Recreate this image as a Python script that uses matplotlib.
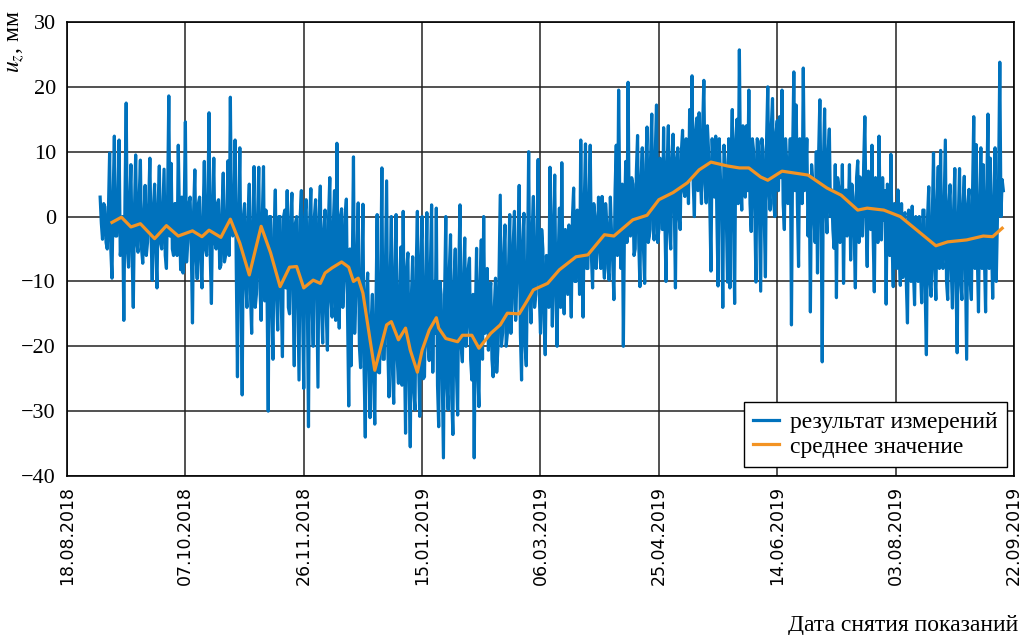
import numpy as np
import matplotlib
matplotlib.use("Agg")
import matplotlib.pyplot as plt
import matplotlib.dates as mdates

# Measured vertical displacement, two readings per day from 01.09.2018:
# morning readings (*_am) and evening readings (*_pm)
sep_2018_am = [3.0, -3.5, 1.5, -5.0, 9.8, -9.5, 12.4, -3.0, 11.8, -4.0, -16.0, 17.5, -7.8, 8.0, -14.0,
               9.5, -5.5, 8.7, -7.2, 4.8, -4.0, 9.0, -9.8, 5.0, -11.0, 7.8, -5.0, 7.3, -8.0, 18.6]
sep_2018_pm = [-1, 2, -4, 1, -5, 3, -3, 2, -6, 0, 3, -5, 2, -6, 1, -4, 3, -5, 0, -6, 2, -3, 1, -5, 2,
               -4, 1, -6, 3, -3]
oct_2018_am = [8.2, -6.0, 2.0, 11.0, -8.2, -8.7, 14.6, -4.0, 3.0, -16.4, 7.2, -9.6, 3.0, -11.0, 8.5, -6.0,
               16.0, -13.4, 9.0, -5.0, 2.6, -7.5, 6.7, -6.0, 8.6, 18.4, -3.0, 11.8, -24.7, 10.6, -27.5]
oct_2018_pm = [-5, 2, -6, 0, 3, 1, -7, 2, -5, 1, -6, 2, -7, 0, -5, 2, -6, 1, -4, 2, -8, 1, -7, 0, -6, -2,
               1, -8, 0, -10, 0]
nov_2018_am = [2.0, -14.0, 5.0, -18.0, 7.7, -12.0, 7.6, -16.0, 7.7, 1.0, -30.0, 0.0, -22.0, 4.1, -17.5,
               0.0, -21.6, 1.0, 4.0, -15.0, 3.6, -23.0, 0.0, -25.2, 4.0, -26.5, 2.6, -32.4, 4.3, -20.0]
nov_2018_pm = [-10, 0, -12, -1, -14, 0, -11, 0, -13, -12, 0, -14, -2, -12, 0, -13, 0, -11, -14, 0, -12,
               -1, -13, 0, -14, 0, -12, -1, -13, 0]
dec_2018_am = [2.6, -26.3, 4.7, -19.5, 1.0, -20.6, 6.0, -15.5, 4.0, 11.3, -17.2, 1.2, -10.0, 2.7, -29.2,
               -23.0, 9.2, -12.0, 2.1, -23.3, 1.9, -34.0, -8.7, -31.0, -12.0, -32.0, 0.3, -24.1, 7.5,
               -22.0, 5.5]
dec_2018_pm = [-12, 0, -14, -2, -15, 0, -13, -1, -16, -10, 0, -14, 0, -15, -5, -8, -18, -6, -20, -10,
               -24, -12, -22, -16, -25, -14, -24, -10, -22, -8, -20]
jan_2019_am = [-27.8, 0.0, -28.8, 0.3, -25.7, -4.7, 0.8, -33.4, -5.6, -35.5, -6.2, -29.8, 0.8, -30.8, 0.0,
               -24.7, 0.6, -22.2, 1.8, -10.0, 1.3, -32.4, -12.0, -37.2, 0.0, -29.8, -2.8, -33.6, -5.0,
               -30.6, 1.8]
jan_2019_pm = [-10, -24, -8, -22, -12, -26, -20, -8, -25, -12, -27, -8, -22, -6, -25, -10, -20, -8, -24,
               -18, -26, -10, -25, -12, -26, -8, -28, -10, -24, -8, -20]
feb_2019_am = [-22.4, -3.3, -17.0, -6.4, -25.2, -37.2, -4.9, -29.3, -3.6, 0.0, -16.0, -20.6, -10.2, -24.7,
               -9.5, -20.3, 3.3, -17.9, -1.3, -18.0, 0.3, -13.4, 0.8, -10.0, 4.8, -25.2, 0.5, -23.0]
feb_2019_pm = [-10, -20, -8, -22, -12, -15, -24, -10, -22, -18, -8, -12, -22, -14, -24, -8, -20, -6,
               -20, -8, -18, -4, -16, -6, -18, -4, -20, -8]
mar_2019_am = [10.0, -16.4, 3.1, -12.0, 8.8, -18.0, -5.0, -21.3, -10.6, 7.6, -16.9, 6.4, -20.0, 1.3, 8.3,
               -15.0, -7.0, -1.3, -15.5, 4.4, -10.0, -2.0, 11.8, -15.5, 11.2, -8.0, 11.0, -11.0, 0.0,
               -5.6, 0.2]
mar_2019_pm = [-12, -2, -14, -4, -12, -2, -16, -6, -14, -4, -3, -12, -6, -14, -10, -2, -12, -8, 0, -10,
               1, -12, -6, 2, -8, 3, -6, 2, -8, 3, -8]
apr_2019_am = [3.1, -9.5, -1.0, -9.8, -2.5, -12.8, 11.0, 19.5, -8.0, -20.0, 8.5, 20.7, -3.0, 5.0, -5.0,
               12.5, -10.8, 10.6, -10.3, 13.8, -3.0, 15.8, -3.6, 17.2, -2.0, 6.7, 13.7, -10.0, 14.0, -5.0]
apr_2019_pm = [-6, 2, -8, 3, -7, 4, -6, 2, 5, 0, -4, -2, 6, -6, 7, -4, 6, -5, 8, -4, 9, -2, 10, -4, 9,
               -2, 0, 8, -2, 9]
may_2019_am = [12.7, -11.0, 10.6, -2.0, 13.3, 3.1, 9.1, 16.5, 21.7, 0.0, 15.2, 16.0, 2.0, 21.0, 2.1,
               10.0, -8.4, 7.0, 12.4, -10.7, 6.0, -14.0, 8.3, -10.1, -11.0, 16.5, -13.4, 15.0, 25.7, 1.0,
               12.4]
may_2019_pm = [2, 9, 0, 10, 4, 12, 2, 6, 5, 13, 4, 6, 14, 5, 14, 2, 12, 3, 0, 12, 2, 11, 0, 12, 8, 0, 12,
               2, 6, 14, 3]
jun_2019_am = [14.0, 19.5, -2.3, 10.2, -10.1, 11.6, -11.5, 10.3, -9.3, 20.0, 1.0, 18.2, 0.0, 14.8, 15.4,
               19.5, -2.0, 8.4, 4.0, -16.7, 22.3, 17.2, -7.7, 8.7, 22.9, 5.8, -3.0, -14.7, 5.3, -4.0]
jun_2019_pm = [4, 2, 12, 1, 12, 0, 12, 0, 12, 4, 14, 2, 13, 4, 6, 2, 12, 2, 12, 10, 4, 2, 12, 2, 4, 12,
               6, 8, 0, 10]
jul_2019_am = [-8.7, 18.0, -22.4, 16.6, -2.5, 13.5, 4.1, -4.9, -12.5, 4.6, -3.0, -10.3, 4.1, 0.3, -6.7,
               3.0, -11.0, 8.6, 6.1, -3.0, 15.4, -7.7, 5.6, 11.0, -11.6, 2.5, 12.4, -3.6, -0.6, -13.5, 4.6]
jul_2019_pm = [10, 2, 8, 2, 10, 0, -2, 8, 6, -4, 8, 4, -3, 8, 5, -3, 6, -4, -2, 8, 0, 7, -2, -3, 6, -4,
               -2, 6, 4, 5, -6]
aug_2019_am = [9.6, -10.8, -2.5, 4.1, -10.6, -9.4, 0.6, -16.4, -4.0, 1.6, -13.6, -2.5, 0.0, -13.3, 1.0,
               -21.3, 4.6, -12.3, 9.8, -12.8, 7.7, 10.2, -8.0, 11.8, -12.8, 4.9, -14.1, 7.4, -21.0, 7.4,
               -12.8]
aug_2019_pm = [-4, 2, -8, -6, 2, 0, -10, 1, -10, -8, 0, -10, -8, 1, -12, 0, -10, 0, -8, 2, -8, -6, 2,
               -10, 2, -8, 1, -10, 0, -10, 2]
sep_2019_am = [6.2, -22.0, 4.2, -12.8, 15.4, 11.1, -14.7, 10.6, 8.0, -14.7, 15.8, 9.0, -12.6, 10.6, -0.4,
               23.8, 5.7]
sep_2019_pm = [-8, 2, -10, 4, -8, -6, 2, -8, -6, 4, -8, -4, 2, -10, 6, 0, 4]

# Running mean: day offset from 18.08.2018 and value, мм
mean_offset_days = [19, 23, 27, 31, 37, 42, 47, 53, 57, 60, 65, 69, 73, 77, 82, 86, 90, 94, 97, 100,
                    104, 107, 109, 112, 116, 119, 121, 123, 125, 128, 130, 133, 135, 137, 140, 143, 145,
                    148, 150, 153, 156, 157, 160, 165, 167, 171, 174, 179, 183, 186, 191, 194, 197, 200,
                    203, 208, 215, 220, 227, 231, 239, 245, 250, 256, 262, 267, 272, 279, 284, 288, 293,
                    296, 302, 313, 321, 327, 334, 338, 345, 352, 360, 367, 372, 380, 387, 391, 395]
mean_values = [-0.9, -0.1, -1.6, -1.1, -3.4, -1.4, -3.0, -2.2, -3.1, -2.1, -3.2, -0.4, -4.1, -9.0, -1.5,
               -5.6, -10.8, -7.8, -7.7, -11.0, -9.8, -10.3, -8.7, -7.9, -7.0, -7.8, -10.0, -9.5, -11.8,
               -19.0, -23.7, -19.5, -16.7, -16.2, -19.0, -17.2, -20.6, -24.0, -20.6, -17.5, -15.6, -17.2,
               -18.8, -19.3, -18.3, -18.3, -20.3, -18.0, -16.7, -14.9, -15.0, -13.2, -11.3, -10.8, -10.3,
               -8.2, -6.2, -5.9, -2.8, -3.0, -0.5, 0.2, 2.6, 3.7, 5.2, 7.2, 8.4, 7.8, 7.5, 7.5, 6.1, 5.6,
               7.0, 6.4, 4.4, 3.3, 1.0, 1.3, 1.0, 0.0, -2.4, -4.5, -3.9, -3.6, -3.0, -3.1, -1.8]

axis_start = np.datetime64("2018-08-18")
axis_end = np.datetime64("2019-09-22")
first_reading = np.datetime64("2018-09-01T00:00")

am = np.concatenate([sep_2018_am, oct_2018_am, nov_2018_am, dec_2018_am, jan_2019_am, feb_2019_am,
                     mar_2019_am, apr_2019_am, may_2019_am, jun_2019_am, jul_2019_am, aug_2019_am,
                     sep_2019_am])
pm = np.concatenate([sep_2018_pm, oct_2018_pm, nov_2018_pm, dec_2018_pm, jan_2019_pm, feb_2019_pm,
                     mar_2019_pm, apr_2019_pm, may_2019_pm, jun_2019_pm, jul_2019_pm, aug_2019_pm,
                     sep_2019_pm])
measured = np.column_stack([am, pm]).ravel()
measured_dates = first_reading + (np.arange(len(measured)) * 12).astype("timedelta64[h]")
mean_dates = axis_start + np.array(mean_offset_days).astype("timedelta64[D]")

plt.rcParams["mathtext.fontset"] = "stix"
serif = "Liberation Serif"

fig = plt.figure(figsize=(10.22, 6.35), dpi=100)
ax = fig.add_axes([67 / 1022, 1 - 476 / 635, (1014 - 67) / 1022, (476 - 22) / 635])

ax.plot(measured_dates, measured, color="#0072BD", lw=2.3, label="результат измерений", zorder=3)
ax.plot(mean_dates, mean_values, color="#F39323", lw=2.3, label="среднее значение", zorder=4)

ax.set_xlim(axis_start, axis_end)
ax.set_ylim(-40, 30)
xticks = axis_start + (np.arange(9) * 50).astype("timedelta64[D]")
ax.set_xticks(xticks)
ax.xaxis.set_major_formatter(mdates.DateFormatter("%d.%m.%Y"))
ax.set_yticks(np.arange(-40, 31, 10))
ax.set_yticklabels([f"{v}".replace("-", "\u2212") for v in range(-40, 31, 10)])

for lbl in ax.get_xticklabels():
    lbl.set_rotation(90)
    lbl.set_fontfamily("DejaVu Sans")
    lbl.set_fontsize(12.5)
for lbl in ax.get_yticklabels():
    lbl.set_fontfamily(serif)
    lbl.set_fontsize(16)

ax.tick_params(axis="both", direction="in", length=0, pad=8)
ax.tick_params(axis="x", pad=7)
ax.grid(True, color="#222222", lw=1.1)
ax.set_axisbelow(True)
for s in ax.spines.values():
    s.set_color("black")
    s.set_linewidth(1.2)

fig.text(16 / 1022, 1 - 10 / 635, r"$u_z$, мм", rotation=90, ha="center", va="top",
         fontsize=17, fontfamily=serif)
fig.text(1018 / 1022, 1 - 626 / 635, "Дата снятия показаний", ha="right", va="center",
         fontsize=17, fontfamily=serif)

leg = ax.legend(loc="lower right", bbox_to_anchor=(1007 / 1022, 1 - 467 / 635),
                bbox_transform=fig.transFigure, prop={"family": serif, "size": 17},
                frameon=True, fancybox=False, framealpha=1, edgecolor="black",
                handlelength=1.1, handletextpad=0.45, borderpad=0.4, labelspacing=0.12,
                borderaxespad=0)
leg.get_frame().set_linewidth(1.0)

fig.savefig("out.png", dpi=100)
